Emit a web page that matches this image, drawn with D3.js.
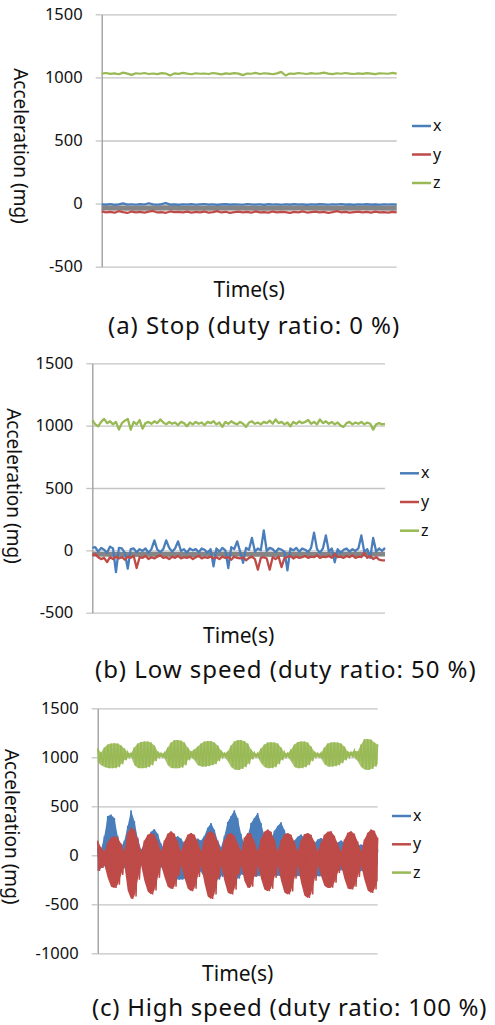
<!DOCTYPE html>
<html>
<head>
<meta charset="utf-8">
<script src="https://cdn.jsdelivr.net/npm/d3@7"></script>
<style>
  html, body { margin: 0; padding: 0; background: #fff; }
  svg { display: block; font-family: "Noto Sans", "Open Sans", sans-serif; }
</style>
</head>
<body>
<svg width="495" height="1025"></svg>
<script>
// legend / series
const seriesNames = ["x", "y", "z"];
const seriesColors = ["#4a7ebb", "#be4b48", "#98b954"];
const grayColor = "#858585";

const ticksAB = [-500, 0, 500, 1000, 1500];
const ticksC = [-1000, -500, 0, 500, 1000, 1500];
const captions = [
    "(a) Stop (duty ratio: 0 %)",
    "(b) Low speed (duty ratio: 50 %)",
    "(c) High speed (duty ratio: 100 %)"
];

// (a) stop
const stopX = [-5,-8,-3,-10,-6,2,-8,-5,-9,-4,-7,3,-6,-9,-4,5,-8,-6,-10,-5,-7,-4,-9,-6,-3,-8,-5,-10,-6,-4,
    -8,-5,-7,-9,-3,-6,-8,-5,-10,-4,-7,-6,-9,-5,-8,-3,-7,-6,-10,-5,-8,-4,-6,-9,-5,-7,-3,-8,-6,-10,
    -5,-7,-4,-8,-6,-9,-5,-7,-6,-8];
const stopY = [-62,-70,-65,-72,-60,-68,-74,-63,-69,-66,-71,-64,-58,-70,-67,-73,-62,-68,-65,-70,-64,-72,-66,-69,-63,
    -71,-67,-60,-70,-65,-73,-68,-64,-70,-66,-72,-62,-69,-67,-71,-63,-70,-65,-68,-74,-66,-69,-62,-71,-67,
    -64,-70,-66,-73,-68,-60,-69,-65,-72,-67,-63,-70,-66,-71,-64,-69,-67,-72,-65,-70];
const stopZ = [1030,1035,1028,1032,1025,1038,1030,1020,1033,1029,1035,1027,1031,1026,1034,1030,1015,1032,1028,1036,
    1030,1025,1033,1029,1031,1027,1035,1030,1024,1032,1028,1034,1030,1018,1031,1029,1036,1027,1033,1030,
    1025,1032,1044,1015,1030,1028,1035,1031,1027,1034,1029,1032,1038,1030,1026,1033,1029,1035,1030,1027,
    1032,1028,1034,1030,1026,1033,1031,1029,1036,1030];
const stopGrayHi = [-14,-16,-13,-15,-14,-16,-13,-15,-14,-15];
const stopGrayLo = [-55,-57,-54,-56,-55,-57,-54,-56,-55,-56];

// (b) low speed
const lowX = [20,25,-10,20,5,-20,30,15,-174,20,15,-20,-147,10,15,-15,10,-5,15,-20,
    10,80,5,-15,10,80,20,-10,15,72,-5,10,-20,15,0,10,-15,15,5,-20,
    10,-128,15,-10,20,0,-142,25,10,72,-10,-100,20,5,100,-10,15,0,160,-5,
    20,10,-15,15,5,-10,-160,15,0,20,-10,15,5,-15,20,142,10,-20,15,120,
    -10,15,-96,10,-20,5,15,-10,10,-5,15,120,-15,10,-60,100,-10,15,-5,20];
const lowY = [-40,-30,-55,-70,-60,-94,-55,-70,-50,-65,-55,-75,-50,-60,-45,-142,-55,-60,-45,-70,
    -55,-65,-50,-40,-60,-55,-70,-50,-60,-45,-65,-55,-60,-50,-70,-55,-45,-65,-55,-60,
    -50,-65,-55,-70,-50,-60,-55,-75,-50,-60,-65,-55,-80,-60,-50,-70,-155,-60,-55,-65,
    -155,-55,-70,-50,-134,-60,-55,-45,-65,-50,-60,-55,-45,-60,-50,-55,-40,-60,-50,-55,
    -45,-60,-30,-55,-50,-60,-45,-55,-40,-60,-50,-55,-20,-60,-45,-70,-55,-75,-80,-80];
const lowZ = [1043,1010,995,1030,1054,1020,1035,1010,1030,968,1020,1040,1054,968,1030,1010,1045,976,1020,1030,
    1015,1035,1020,1050,1025,1010,1030,1015,1025,1005,1030,1020,995,1025,1010,1030,1015,1025,1005,1030,
    1020,1035,1010,1025,990,1030,1015,1035,1020,1010,1030,1015,990,1025,1035,1015,1025,1010,1030,1020,
    1040,1015,1050,1020,1030,1010,1025,995,1030,1015,1035,1020,1030,1045,1015,1030,1010,1050,1020,1035,
    1015,1030,1010,1025,1000,990,1020,1030,1010,1025,1015,1030,1010,1025,1015,968,1010,1020,1010,1015];
const lowGrayHi = [-12,-14,-11,-13,-12,-14,-12,-13,-11,-13];
const lowGrayLo = [-50,-53,-51,-54,-50,-52,-53,-51,-52,-50];

// (c) high speed: upper / lower envelope of each burst, per time bin
const highXHi = [80,60,200,400,415,380,200,80,150,300,459,350,180,60,100,180,240,269,220,120,
    60,100,150,180,194,170,120,80,120,150,170,150,200,280,330,260,150,80,200,340,
    400,459,380,220,100,200,330,380,432,330,200,100,150,250,300,337,260,150,80,150,
    190,211,180,100,60,120,160,177,150,90,60,100,130,150,130,80,60,90,100,110,
    100,70,60,60,60];
const highXLo = [-160,-130,-110,-150,-200,-180,-120,-100,-130,-200,-220,-180,-120,-100,-150,-200,-220,-200,-150,-120,
    -170,-220,-240,-248,-248,-248,-240,-248,-230,-180,-150,-170,-230,-240,-245,-248,-248,-220,-160,-220,
    -245,-245,-240,-200,-160,-200,-214,-214,-214,-190,-170,-160,-190,-200,-210,-190,-160,-150,-190,-214,
    -214,-200,-180,-160,-150,-190,-214,-214,-200,-170,-150,-140,-160,-150,-170,-150,-130,-150,-165,-163,
    -140,-130,-120,-110,-100];
const highYHi = [150,80,40,130,180,195,180,120,40,230,280,260,170,40,150,210,228,210,140,40,
    150,220,245,220,140,40,140,210,228,210,140,40,160,230,245,220,140,40,150,215,
    228,200,120,40,180,228,220,140,40,170,240,262,240,160,40,150,215,228,210,140,
    40,150,215,228,210,140,40,130,210,240,245,200,120,40,160,230,245,220,140,40,
    160,230,262,250,180];
const highYLo = [-160,-130,-100,-230,-320,-333,-300,-200,-100,-360,-445,-420,-250,-100,-260,-370,-401,-360,-230,-100,
    -220,-320,-343,-320,-210,-100,-230,-340,-367,-340,-220,-100,-280,-420,-445,-400,-240,-100,-260,-380,
    -401,-350,-200,-100,-260,-333,-320,-220,-100,-240,-350,-367,-340,-230,-100,-260,-380,-401,-370,-240,
    -100,-280,-410,-435,-400,-260,-100,-210,-310,-333,-330,-280,-180,-100,-240,-340,-350,-320,-220,-100,
    -250,-360,-384,-350,-260];
const highZHi = [1090,1050,1100,1130,1140,1143,1140,1120,1090,1050,1040,1100,1140,1155,1160,1160,1150,1120,1060,1040,
    1045,1100,1150,1175,1177,1170,1150,1100,1060,1080,1110,1140,1160,1167,1165,1150,1120,1070,1040,1060,
    1120,1160,1177,1175,1165,1140,1080,1045,1040,1090,1130,1150,1153,1150,1140,1100,1050,1040,1080,1130,
    1155,1160,1160,1150,1110,1060,1040,1045,1100,1140,1150,1153,1150,1140,1110,1060,1050,1070,1060,1130,
    1185,1187,1180,1150,1130];
const highZLo = [950,920,900,890,888,890,900,930,970,1000,1005,920,890,888,890,900,920,960,1000,1005,
    990,920,890,888,888,895,920,970,1000,970,920,905,905,910,920,930,960,1000,1005,960,
    900,875,871,880,900,930,980,1005,1000,940,900,888,890,900,930,970,1000,1005,960,900,
    888,890,900,920,960,1000,1005,990,930,905,905,910,920,940,970,1000,1010,1000,960,900,
    875,871,880,905,930];

const svg = d3.select("svg");
svg.append("rect").attr("width", 495).attr("height", 1025).attr("fill", "#fff");

const panels = [
    { kind: "line", x: stopX, y: stopY, z: stopZ, grayHi: stopGrayHi, grayLo: stopGrayLo,
      ticks: ticksAB, left: 101.7, right: 396.7, top: 14.3, bottom: 266.7,
      ylabX: 21, ylabY: 146, timeY: 297, capX: 108, capY: 334, capSp: 0.95,
      legX: 412, legY: 126, legStep: 28.5, strokeW: 2.2 },
    { kind: "line", x: lowX, y: lowY, z: lowZ, grayHi: lowGrayHi, grayLo: lowGrayLo,
      ticks: ticksAB, left: 92.3, right: 385, top: 363.3, bottom: 612.7,
      ylabX: 14, ylabY: 486, timeY: 643, capX: 95, capY: 678, capSp: 0.95,
      legX: 400, legY: 473.3, legStep: 28.7, strokeW: 2.3 },
    { kind: "band", xHi: highXHi, xLo: highXLo, yHi: highYHi, yLo: highYLo, zHi: highZHi, zLo: highZLo,
      ticks: ticksC, left: 97.7, right: 377.7, top: 708.3, bottom: 953.3,
      ylabX: 11.5, ylabY: 826.7, timeY: 981, capX: 92, capY: 1016, capSp: 0.75,
      legX: 392, legY: 816, legStep: 28.3, strokeW: 1.5 }
];

panels.forEach((p, k) => {
    const g = svg.append("g");
    const n = p.kind === "line" ? p.x.length : p.xHi.length;
    const x = d3.scaleLinear().domain([0, n - 1]).range([p.left, p.right]);
    const y = d3.scaleLinear().domain(d3.extent(p.ticks)).range([p.bottom, p.top]);
    const w = p.right - p.left;

    // gridlines
    g.append("g")
        .attr("transform", `translate(${p.left},0)`)
        .call(d3.axisLeft(y).tickValues(p.ticks).tickSize(-w).tickFormat(""))
        .call(a => a.select(".domain").remove())
        .selectAll("line").attr("stroke", "#c4c4c4").attr("stroke-width", 1.3);

    // value axis
    const ax = g.append("g")
        .attr("transform", `translate(${p.left},0)`)
        .call(d3.axisLeft(y).tickValues(p.ticks).tickFormat(d => String(d))
            .tickSizeInner(6).tickSizeOuter(0).tickPadding(13));
    ax.select(".domain").attr("stroke", "#9a9a9a").attr("stroke-width", 1.3);
    ax.selectAll(".tick line").attr("stroke", "#c4c4c4").attr("stroke-width", 1.3);
    ax.selectAll(".tick text")
        .attr("font-size", 16.5).attr("fill", "#111")
        .attr("font-family", "Noto Sans");

    if (p.kind === "line") {
        const band = d3.scaleLinear().domain([0, p.grayHi.length - 1]).range([p.left, p.right]);
        g.append("path")
            .datum(d3.range(p.grayHi.length))
            .attr("fill", grayColor)
            .attr("d", d3.area().x(i => band(i)).y0(i => y(p.grayLo[i])).y1(i => y(p.grayHi[i])));
        [p.x, p.y, p.z].forEach((vals, s) => {
            g.append("path")
                .datum(vals)
                .attr("fill", "none")
                .attr("stroke", seriesColors[s])
                .attr("stroke-width", p.strokeW)
                .attr("stroke-linejoin", "round")
                .attr("d", d3.line().x((d, i) => x(i)).y(d => y(d)));
        });
    } else {
        [[p.xHi, p.xLo], [p.yHi, p.yLo], [p.zHi, p.zLo]].forEach(([hi, lo], s) => {
            // zigzag through the burst envelope, one up/down stroke per bin
            const pts = [];
            hi.forEach((v, i) => {
                pts.push([i, v]);
                if (i < n - 1) pts.push([i + 0.5, lo[i]]);
            });
            g.append("path")
                .datum(d3.range(n))
                .attr("fill", seriesColors[s])
                .attr("fill-opacity", s === 2 ? 0.85 : 1)
                .attr("d", d3.area().x(i => x(i)).y0(i => y(lo[i])).y1(i => y(hi[i])));
            g.append("path")
                .datum(pts)
                .attr("fill", "none")
                .attr("stroke", seriesColors[s])
                .attr("stroke-width", p.strokeW)
                .attr("d", d3.line().x(d => x(d[0])).y(d => y(d[1])));
        });
    }

    // y title (rotated clockwise)
    g.append("text")
        .attr("transform", `translate(${p.ylabX},${p.ylabY}) rotate(90)`)
        .attr("text-anchor", "middle")
        .attr("dominant-baseline", "central")
        .attr("font-size", 19)
        .attr("fill", "#111")
        .text("Acceleration (mg)");

    // x title
    g.append("text")
        .attr("x", (p.left + p.right) / 2)
        .attr("y", p.timeY)
        .attr("text-anchor", "middle")
        .attr("font-size", 21)
        .attr("fill", "#111")
        .text("Time(s)");

    // legend
    seriesNames.forEach((name, s) => {
        const ly = p.legY + s * p.legStep;
        g.append("line")
            .attr("x1", p.legX).attr("x2", p.legX + 19)
            .attr("y1", ly).attr("y2", ly)
            .attr("stroke", seriesColors[s]).attr("stroke-width", 2.5);
        g.append("text")
            .attr("x", p.legX + 21).attr("y", ly + 5)
            .attr("font-size", 16).attr("fill", "#111")
            .text(name);
    });

    // caption
    svg.append("text")
        .attr("x", p.capX).attr("y", p.capY)
        .attr("font-size", 24).attr("letter-spacing", p.capSp).attr("fill", "#111")
        .text(captions[k]);
});
</script>
</body>
</html>
